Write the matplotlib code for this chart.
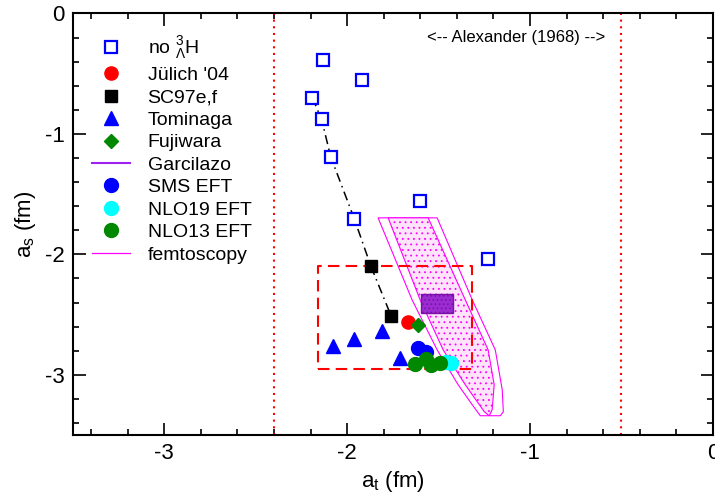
import matplotlib
matplotlib.use('Agg')
import matplotlib.pyplot as plt
from matplotlib.lines import Line2D

plt.rcParams['font.family'] = ['Liberation Sans', 'DejaVu Sans']
plt.rcParams['mathtext.fontset'] = 'custom'
plt.rcParams['mathtext.rm'] = 'Liberation Sans'
plt.rcParams['mathtext.it'] = 'Liberation Sans:italic'
plt.rcParams['mathtext.bf'] = 'Liberation Sans:bold'
plt.rcParams['axes.unicode_minus'] = False
plt.rcParams['hatch.linewidth'] = 0.6

# no 3_Lambda H points
noH_x = [-2.13, -1.92, -2.19, -2.14, -2.09, -1.96, -1.60, -1.23]
noH_y = [-0.39, -0.55, -0.70, -0.88, -1.19, -1.71, -1.56, -2.04]

# dash-dot chain through the no-hypertriton points to SC97e,f
chain_x = [-2.19, -2.14, -2.09, -1.96, -1.87, -1.76]
chain_y = [-0.70, -0.88, -1.19, -1.71, -2.10, -2.51]

julich_x, julich_y = [-1.67], [-2.56]
sc97_x = [-1.87, -1.76]
sc97_y = [-2.10, -2.51]
tominaga_x = [-2.075, -1.96, -1.81, -1.71]
tominaga_y = [-2.76, -2.70, -2.64, -2.86]
fujiwara_x, fujiwara_y = [-1.615], [-2.59]
sms_x = [-1.61, -1.57]
sms_y = [-2.78, -2.81]
nlo19_x = [-1.46, -1.43]
nlo19_y = [-2.89, -2.90]
nlo13_x = [-1.63, -1.57, -1.54, -1.49]
nlo13_y = [-2.91, -2.87, -2.92, -2.90]

# Garcilazo box
garc_x = [-1.595, -1.42]
garc_y = [-2.49, -2.33]

# femtoscopy bands (outer contour and inner filled band)
femto_out_x = [-1.831, -1.508, -1.316, -1.190, -1.152, -1.146, -1.163,
               -1.272, -1.316, -1.393, -1.508, -1.645, -1.831]
femto_out_y = [-1.697, -1.697, -2.378, -2.793, -3.124, -3.307, -3.340,
               -3.340, -3.249, -3.083, -2.793, -2.378, -1.697]
femto_in_x = [-1.776, -1.557, -1.354, -1.229, -1.196, -1.207, -1.223,
              -1.250, -1.354, -1.475, -1.601, -1.776]
femto_in_y = [-1.697, -1.697, -2.378, -2.793, -3.083, -3.290, -3.340,
              -3.307, -3.083, -2.793, -2.378, -1.697]

# red dashed box and Alexander (1968) limits
box_x = [-2.16, -1.315]
box_y = [-2.95, -2.10]
alex_x = [-2.4, -0.5]

fig = plt.figure(figsize=(7.15, 4.98), dpi=100)
ax = fig.add_axes([0.102, 0.1265, 0.895, 0.8465])

ax.fill(femto_out_x, femto_out_y, facecolor='none', edgecolor='#ff00ff', lw=0.8, zorder=1)
ax.fill(femto_in_x, femto_in_y, facecolor='#fde4fa', edgecolor='#ff00ff', lw=0.8,
        hatch='...', zorder=1)
ax.fill([garc_x[0], garc_x[1], garc_x[1], garc_x[0]],
        [garc_y[0], garc_y[0], garc_y[1], garc_y[1]],
        facecolor='#9a2cd0', edgecolor='#7a10a8', lw=1.0, hatch='....', zorder=2)

for xv in alex_x:
    ax.axvline(xv, color='red', lw=1.5, ls=(0, (1, 2.2)), zorder=2)
ax.text(-0.59, -0.20, '<-- Alexander (1968) -->', fontsize=12, ha='right', va='center')

ax.plot([box_x[0], box_x[1], box_x[1], box_x[0], box_x[0]],
        [box_y[0], box_y[0], box_y[1], box_y[1], box_y[0]],
        color='red', lw=1.5, ls=(0, (5.5, 3)), zorder=3)

ax.plot(chain_x, chain_y, color='black', lw=1.1, ls=(0, (6, 3, 1, 3)), zorder=3)

ax.plot(noH_x, noH_y, 's', ms=8, mfc='white', mec='#0000ff', mew=1.6, zorder=4)
ax.plot(julich_x, julich_y, 'o', ms=9.5, color='red', zorder=4)
ax.plot(sc97_x, sc97_y, 's', ms=8.5, color='black', zorder=4)
ax.plot(tominaga_x, tominaga_y, '^', ms=9.5, color='#0000ff', zorder=4)
ax.plot(fujiwara_x, fujiwara_y, 'D', ms=7, color='#008800', zorder=4)
ax.plot(sms_x, sms_y, 'o', ms=10, color='#0000ff', zorder=4)
ax.plot(nlo19_x, nlo19_y, 'o', ms=10, color='#00ffff', zorder=4)
ax.plot(nlo13_x, nlo13_y, 'o', ms=10, color='#008800', zorder=4)

ax.set_xlim(-3.5, 0)
ax.set_ylim(-3.5, 0)
ax.set_xticks([-3, -2, -1, 0])
ax.set_yticks([0, -1, -2, -3])
ax.set_xticks([-3.4, -3.2, -2.8, -2.6, -2.4, -2.2, -1.8, -1.6, -1.4, -1.2,
               -0.8, -0.6, -0.4, -0.2], minor=True)
ax.set_yticks([-0.2, -0.4, -0.6, -0.8, -1.2, -1.4, -1.6, -1.8, -2.2, -2.4,
               -2.6, -2.8, -3.2, -3.4], minor=True)
ax.tick_params(which='both', direction='in', top=True, right=True, labelsize=16, width=1.2)
ax.tick_params(which='major', length=9, pad=6)
ax.tick_params(which='minor', length=4.5)
for s in ax.spines.values():
    s.set_linewidth(1.5)

ax.set_xlabel(r'a$_\mathrm{t}$ (fm)', fontsize=16, labelpad=3)
ax.set_ylabel(r'a$_\mathrm{s}$ (fm)', fontsize=16, labelpad=5)

handles = [
    Line2D([], [], ls='none', marker='s', ms=8, mfc='white', mec='#0000ff', mew=1.6),
    Line2D([], [], ls='none', marker='o', ms=9.5, color='red'),
    Line2D([], [], ls='none', marker='s', ms=8.5, color='black'),
    Line2D([], [], ls='none', marker='^', ms=9.5, color='#0000ff'),
    Line2D([], [], ls='none', marker='D', ms=7, color='#008800'),
    Line2D([], [], color='#a020f0', lw=1.5),
    Line2D([], [], ls='none', marker='o', ms=10, color='#0000ff'),
    Line2D([], [], ls='none', marker='o', ms=10, color='#00ffff'),
    Line2D([], [], ls='none', marker='o', ms=10, color='#008800'),
    Line2D([], [], color='#ff00ff', lw=0.9),
]
labels = [r'no $^{3}_{\Lambda}$H', "Jülich '04", 'SC97e,f', 'Tominaga', 'Fujiwara',
          'Garcilazo', 'SMS EFT', 'NLO19 EFT', 'NLO13 EFT', 'femtoscopy']
ax.legend(handles, labels, loc='upper left', bbox_to_anchor=(0.03, 0.95), frameon=False,
          fontsize=14, handlelength=1.95, handletextpad=0.9, labelspacing=0.25,
          borderpad=0, borderaxespad=0)

fig.savefig('out.png', dpi=100)
